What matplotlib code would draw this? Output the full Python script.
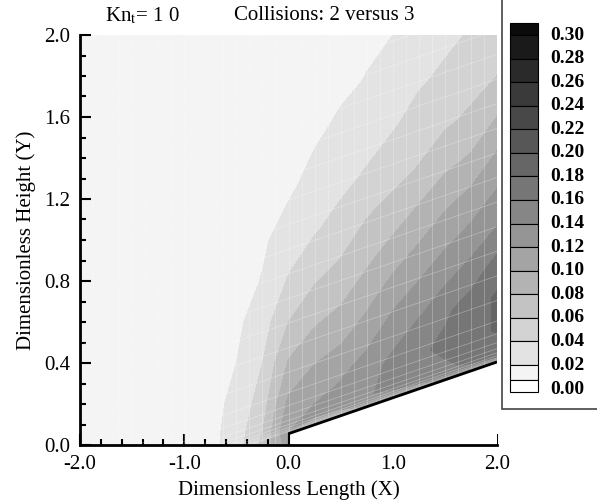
"""Contour of a scalar field around a wedge (Kn_t = 10, collisions 2 vs 3), grey Tecplot-style levels."""

import matplotlib

matplotlib.use("Agg")
import matplotlib.pyplot as plt
import numpy as np
from matplotlib.patches import Polygon, Rectangle

plt.rcParams["font.family"] = ["Liberation Serif", "DejaVu Serif"]
plt.rcParams["mathtext.fontset"] = "stix"
plt.rcParams["axes.unicode_minus"] = False

# --- contour levels and the grey of each band (0.00-0.02 ... 0.28-0.30, >0.30) ---
levels = [0.00, 0.02, 0.04, 0.06, 0.08, 0.10, 0.12, 0.14, 0.16, 0.18, 0.20, 0.22, 0.24, 0.26, 0.28, 0.30]
band_grey = [0.957, 0.890, 0.827, 0.765, 0.702, 0.643, 0.584, 0.525, 0.463, 0.400,
             0.341, 0.282, 0.227, 0.165, 0.102, 0.043]
legend_labels = ["0.30", "0.28", "0.26", "0.24", "0.22", "0.20", "0.18", "0.16",
                 "0.14", "0.12", "0.10", "0.08", "0.06", "0.04", "0.02", "0.00"]

# --- wedge body: leading face at x=0, then inclined wall to x=2 ---
wall_x = [0.0, 0.0, 2.0]
wall_y = [0.0, 0.055, 0.405]

# --- body-fitted sampling grid: x stations, fractional height from wall (0) to Y=2 (1) ---
x_nodes = [-2.0, -1.0, -0.75, -0.5, -0.25, 0.0, 0.25, 0.5, 0.75, 1.0, 1.25, 1.5, 1.75, 2.0]
eta_nodes = [0.0, 0.03, 0.1, 0.2, 0.3, 0.4, 0.5, 0.625, 0.75, 0.875, 1.0]
# field value, one list per x station, wall -> top
field = [
    [0.008, 0.008, 0.008, 0.008, 0.008, 0.008, 0.008, 0.008, 0.008, 0.008, 0.008],
    [0.010, 0.010, 0.010, 0.009, 0.009, 0.009, 0.009, 0.009, 0.009, 0.009, 0.009],
    [0.014, 0.014, 0.014, 0.013, 0.012, 0.011, 0.010, 0.010, 0.010, 0.009, 0.009],
    [0.030, 0.029, 0.025, 0.020, 0.016, 0.012, 0.010, 0.010, 0.010, 0.009, 0.009],
    [0.065, 0.060, 0.050, 0.040, 0.030, 0.021, 0.017, 0.013, 0.011, 0.010, 0.010],
    [0.110, 0.120, 0.105, 0.082, 0.060, 0.042, 0.029, 0.017, 0.014, 0.011, 0.010],
    [0.112, 0.124, 0.112, 0.090, 0.070, 0.053, 0.038, 0.026, 0.017, 0.013, 0.010],
    [0.112, 0.126, 0.119, 0.097, 0.078, 0.062, 0.047, 0.034, 0.024, 0.016, 0.012],
    [0.120, 0.138, 0.131, 0.110, 0.092, 0.075, 0.061, 0.042, 0.031, 0.021, 0.016],
    [0.125, 0.145, 0.145, 0.128, 0.108, 0.089, 0.070, 0.052, 0.038, 0.029, 0.020],
    [0.130, 0.150, 0.156, 0.140, 0.121, 0.102, 0.084, 0.061, 0.048, 0.037, 0.030],
    [0.138, 0.156, 0.165, 0.156, 0.134, 0.116, 0.098, 0.075, 0.056, 0.044, 0.035],
    [0.148, 0.164, 0.172, 0.168, 0.148, 0.127, 0.110, 0.084, 0.064, 0.052, 0.042],
    [0.152, 0.168, 0.182, 0.183, 0.167, 0.143, 0.125, 0.104, 0.080, 0.060, 0.045],
]

xs = np.array(x_nodes)
eta = np.array(eta_nodes)
wall_slope = (wall_y[2] - wall_y[1]) / (wall_x[2] - wall_x[1])
yw = np.where(xs > 0, wall_y[1] + wall_slope * xs, 0.0)
X = np.tile(xs, (len(eta), 1))
Y = yw[None, :] + eta[:, None] * (2.0 - yw[None, :])
Z = np.array(field).T

fig = plt.figure(figsize=(5.97, 5.04), dpi=100)
ax = fig.add_axes([80 / 597, 1 - 445 / 504, 417 / 597, 410 / 504])

ax.contourf(X, Y, Z, levels=levels, colors=[str(g) for g in band_grey[:15]], zorder=1)

# faint computational mesh over the field
for xm in np.arange(-2.0, 2.001, 0.125):
    ax.plot([xm, xm], [0, 2], color="white", lw=0.5, alpha=0.35, zorder=2)
xl = np.array([-2.0, 2.0])
for c in np.concatenate([np.geomspace(0.01, 0.2, 9), np.arange(0.3, 2.8, 0.12)]):
    ax.plot(xl, wall_y[1] + wall_slope * xl + c, color="white", lw=0.5, alpha=0.35, zorder=2)

ax.add_patch(Polygon(list(zip(wall_x + [2.0], wall_y + [0.0])), closed=True,
                     facecolor="white", edgecolor="none", zorder=3))
ax.plot(wall_x[1:], wall_y[1:], color="black", lw=2, zorder=4, solid_capstyle="butt")
ax.plot(wall_x[:2], wall_y[:2], color="black", lw=1.5, zorder=4)

ax.set_xlim(-2, 2)
ax.set_ylim(0, 2)
ax.set_xticks([-2, -1, 0, 1, 2])
ax.set_yticks([0, 0.4, 0.8, 1.2, 1.6, 2.0])
ax.set_xticks(np.arange(-2, 2.01, 0.2), minor=True)
ax.set_yticks(np.arange(0, 2.01, 0.1), minor=True)
ax.xaxis.set_major_formatter(matplotlib.ticker.FormatStrFormatter("%.1f"))
ax.yaxis.set_major_formatter(matplotlib.ticker.FormatStrFormatter("%.1f"))
ax.tick_params(which="both", direction="in", top=False, right=False, labelsize=15, width=1.5)
ax.tick_params(which="major", length=8, pad=7)
ax.tick_params(which="minor", length=4)
for side in ("top", "right"):
    ax.spines[side].set_visible(False)
for side in ("left", "bottom"):
    ax.spines[side].set_linewidth(2)
    ax.spines[side].set_zorder(5)

ax.set_xlabel("Dimensionless Length (X)", fontsize=15)
ax.set_ylabel("Dimensionless Height (Y)", fontsize=15)
ax.xaxis.set_label_coords(0.5, -0.085)
ax.yaxis.set_label_coords(-0.105, 0.5)

fig.text(105 / 597, 1 - 16 / 504, r"Kn$_\mathrm{t}$= 1 0", fontsize=15, va="center")
fig.text(234 / 597, 1 - 16 / 504, "Collisions: 2 versus 3", fontsize=15, va="center")

# --- legend box (Tecplot style) ---
W, H = 597, 504
fig.patches.append(Rectangle((502 / W, 1 - 409 / H), 0.2, 0.9, transform=fig.transFigure,
                             facecolor="white", edgecolor="#444444", lw=1.2, zorder=0))
label_y = [35 + i * (365 - 35) / 14 for i in range(15)] + [389]
edges = [23] + label_y[:15] + [380, 392]
sw_colors = [band_grey[15]] + [band_grey[14 - i] for i in range(14)] + [band_grey[0], 1.0]
for k in range(len(sw_colors)):
    top, bot = edges[k], edges[k + 1]
    fig.patches.append(Rectangle((510 / W, 1 - bot / H), 28 / W, (bot - top) / H,
                                 transform=fig.transFigure, facecolor=str(sw_colors[k]),
                                 edgecolor="black", lw=0.8))
for lab, py in zip(legend_labels, label_y):
    fig.text(550 / W, 1 - py / H, lab, fontsize=14, fontweight="bold", va="center")

fig.savefig("out.png", dpi=100)
